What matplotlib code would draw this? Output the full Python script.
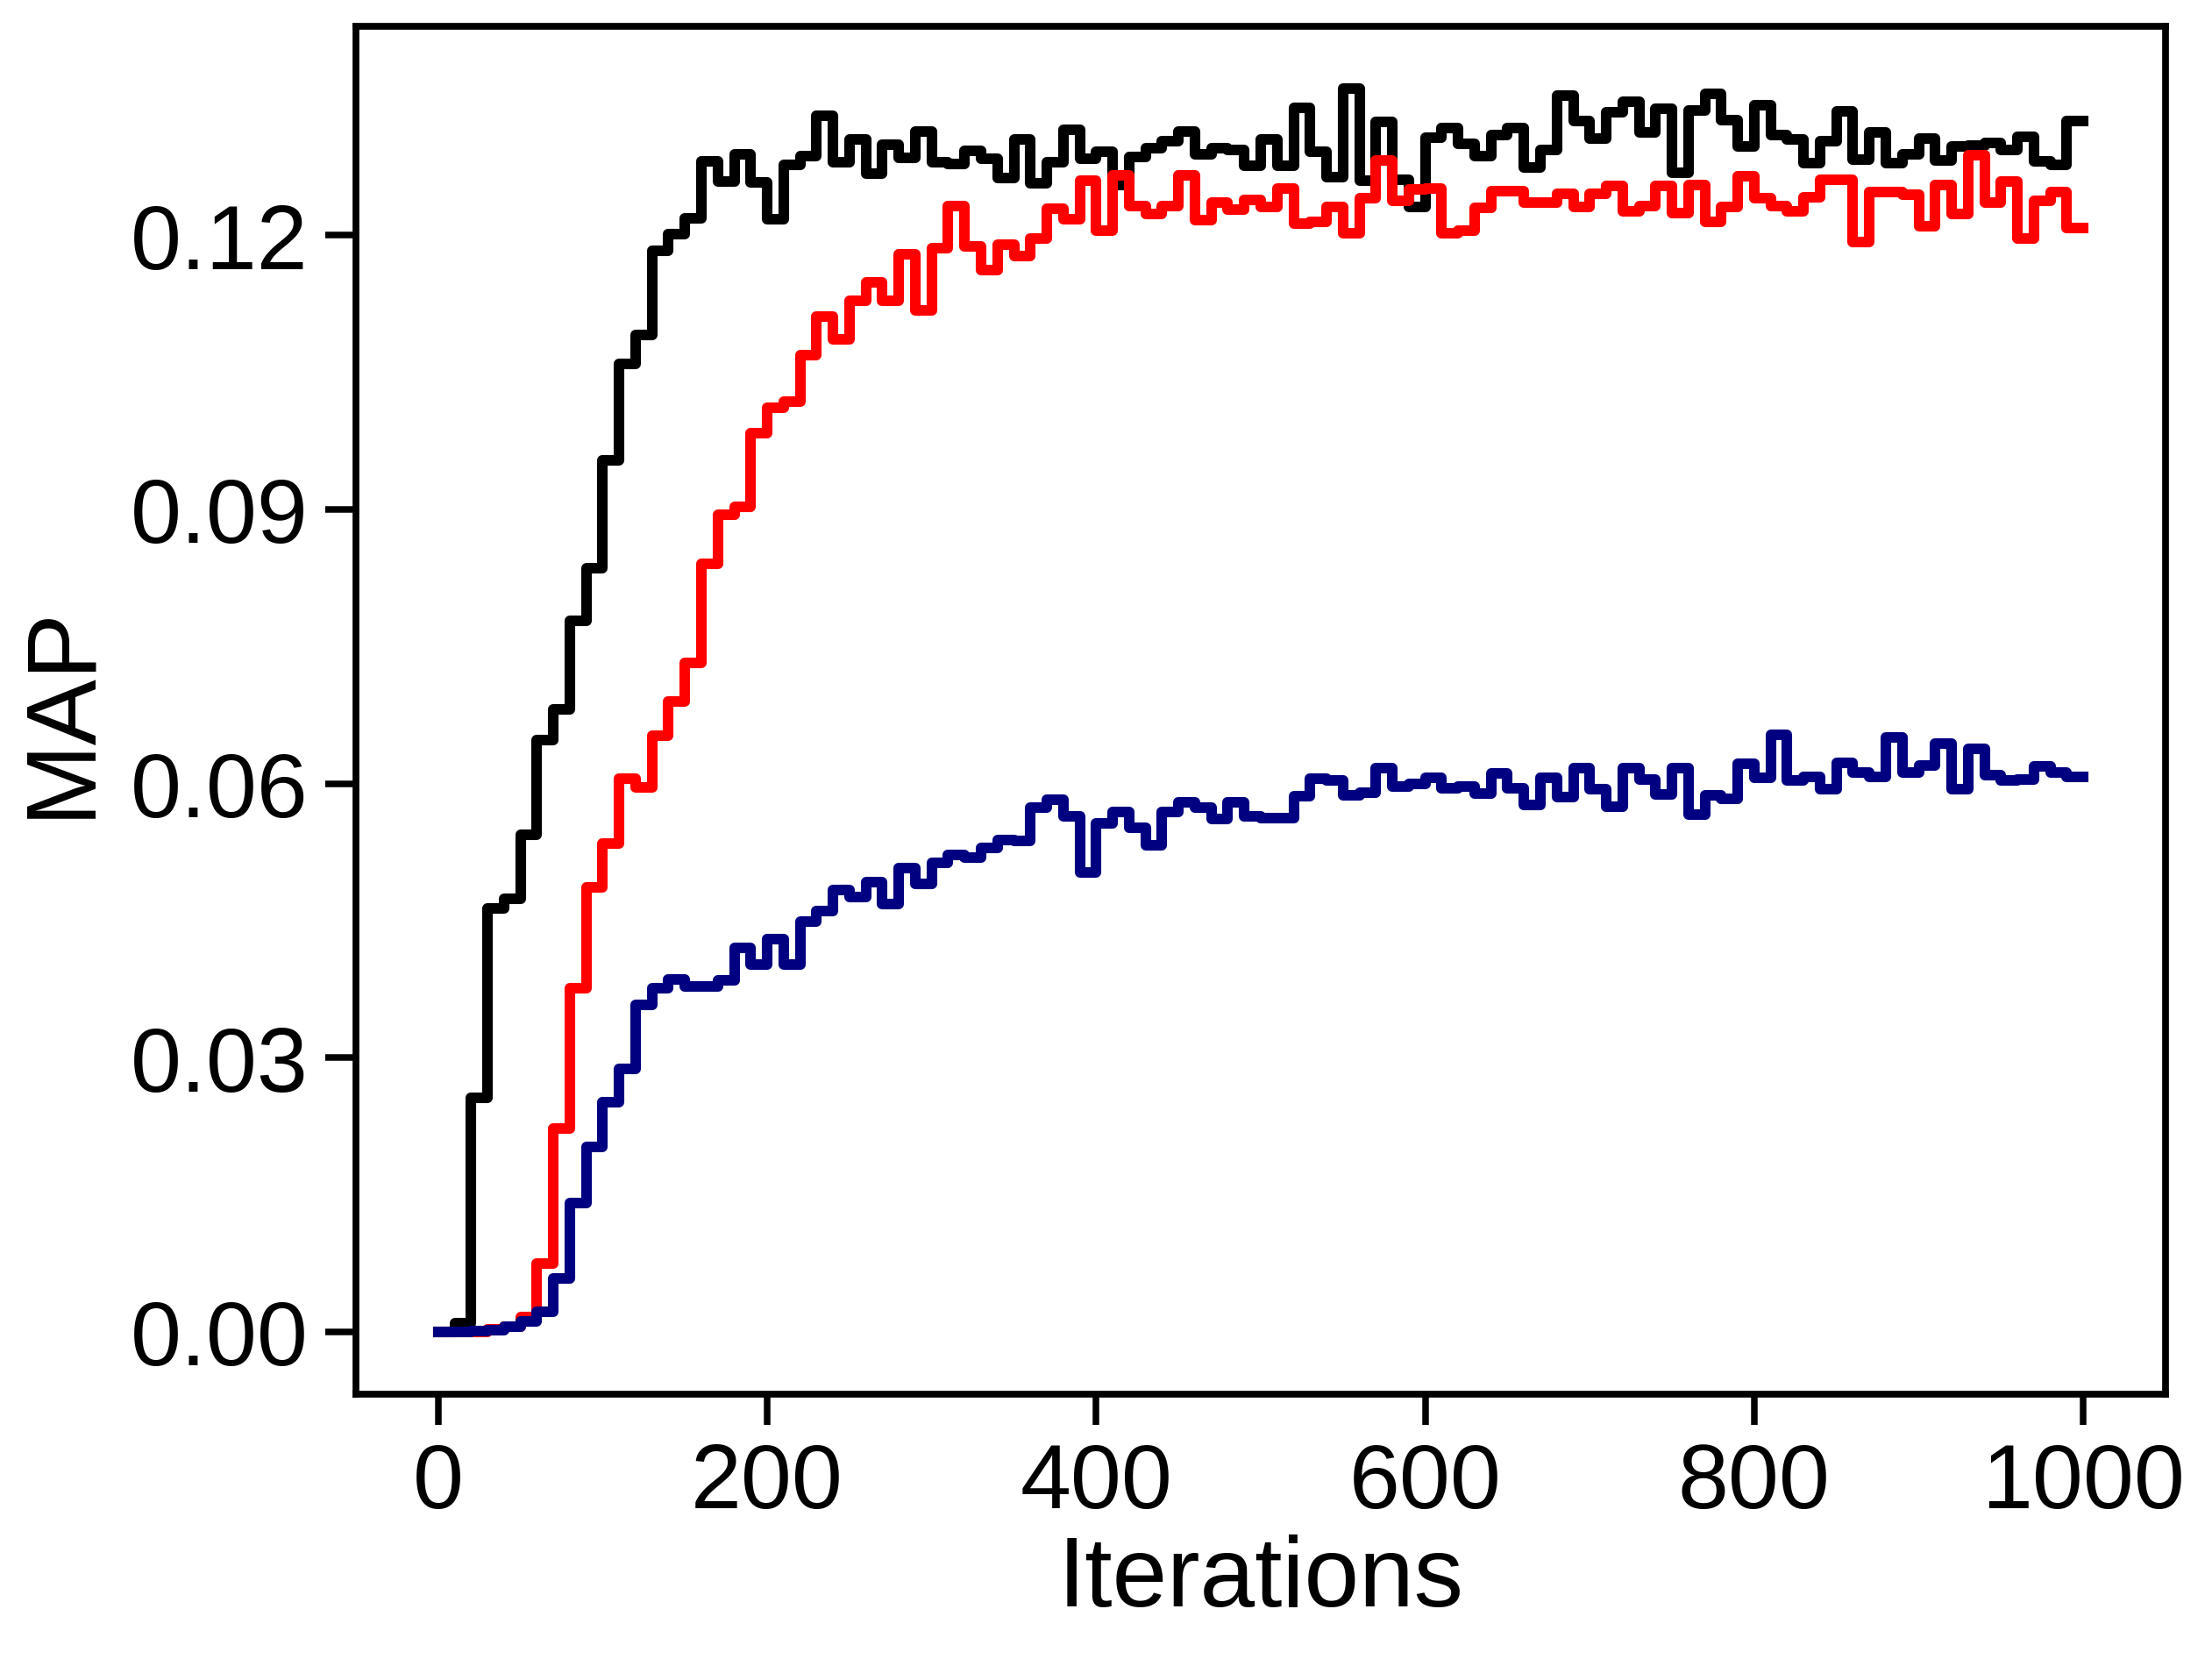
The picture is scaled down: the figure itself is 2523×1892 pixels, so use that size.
import numpy as np
import matplotlib
matplotlib.use("Agg")
import matplotlib.pyplot as plt
from matplotlib.ticker import FormatStrFormatter

# MAP evaluated every 10 iterations
iterations = np.arange(0, 1001, 10)

map_black = [
    0.0000, 0.0009, 0.0256, 0.0463, 0.0474, 0.0544, 0.0648, 0.0681, 0.0778, 0.0836,
    0.0954, 0.1059, 0.1091, 0.1183, 0.1201, 0.1219, 0.1281, 0.1259, 0.1289, 0.1258,
    0.1218, 0.1277, 0.1287, 0.1331, 0.1280, 0.1305, 0.1267, 0.1299, 0.1285, 0.1314,
    0.1280, 0.1278, 0.1292, 0.1284, 0.1263, 0.1305, 0.1257, 0.1280, 0.1315, 0.1284,
    0.1291, 0.1255, 0.1286, 0.1295, 0.1303, 0.1314, 0.1289, 0.1295, 0.1293, 0.1276,
    0.1305, 0.1276, 0.1339, 0.1291, 0.1264, 0.1361, 0.1260, 0.1324, 0.1261, 0.1231,
    0.1307, 0.1317, 0.1300, 0.1287, 0.1310, 0.1317, 0.1274, 0.1293, 0.1353, 0.1325,
    0.1306, 0.1335, 0.1346, 0.1313, 0.1338, 0.1268, 0.1337, 0.1355, 0.1326, 0.1297,
    0.1342, 0.1310, 0.1305, 0.1279, 0.1303, 0.1336, 0.1283, 0.1313, 0.1279, 0.1289,
    0.1306, 0.1282, 0.1297, 0.1298, 0.1301, 0.1293, 0.1308, 0.1281, 0.1277, 0.1325,
    0.1325,
]

map_red = [
    0.0000, 0.0000, 0.0000, 0.0003, 0.0006, 0.0016, 0.0075, 0.0222, 0.0376, 0.0486,
    0.0534, 0.0605, 0.0596, 0.0652, 0.0690, 0.0732, 0.0840, 0.0894, 0.0903, 0.0983,
    0.1011, 0.1018, 0.1069, 0.1111, 0.1086, 0.1128, 0.1148, 0.1128, 0.1179, 0.1118,
    0.1186, 0.1232, 0.1188, 0.1162, 0.1190, 0.1177, 0.1196, 0.1229, 0.1218, 0.1260,
    0.1205, 0.1266, 0.1232, 0.1223, 0.1232, 0.1266, 0.1217, 0.1236, 0.1228, 0.1239,
    0.1231, 0.1251, 0.1213, 0.1215, 0.1231, 0.1202, 0.1241, 0.1282, 0.1238, 0.1250,
    0.1251, 0.1202, 0.1205, 0.1230, 0.1248, 0.1248, 0.1236, 0.1236, 0.1245, 0.1231,
    0.1245, 0.1254, 0.1226, 0.1232, 0.1254, 0.1224, 0.1255, 0.1215, 0.1231, 0.1265,
    0.1241, 0.1232, 0.1226, 0.1242, 0.1261, 0.1261, 0.1193, 0.1247, 0.1247, 0.1244,
    0.1210, 0.1255, 0.1223, 0.1288, 0.1236, 0.1259, 0.1196, 0.1238, 0.1247, 0.1208,
    0.1208,
]

map_blue = [
    0.0000, 0.0000, 0.0001, 0.0002, 0.0006, 0.0011, 0.0022, 0.0058, 0.0141, 0.0202,
    0.0251, 0.0288, 0.0358, 0.0376, 0.0386, 0.0378, 0.0378, 0.0385, 0.0420, 0.0402,
    0.0430, 0.0402, 0.0449, 0.0460, 0.0483, 0.0476, 0.0492, 0.0468, 0.0507, 0.0490,
    0.0513, 0.0522, 0.0519, 0.0530, 0.0538, 0.0537, 0.0574, 0.0582, 0.0564, 0.0503,
    0.0556, 0.0569, 0.0552, 0.0532, 0.0569, 0.0579, 0.0574, 0.0561, 0.0579, 0.0564,
    0.0562, 0.0562, 0.0586, 0.0605, 0.0603, 0.0587, 0.0590, 0.0617, 0.0597, 0.0600,
    0.0606, 0.0595, 0.0597, 0.0589, 0.0611, 0.0595, 0.0577, 0.0606, 0.0585, 0.0617,
    0.0594, 0.0575, 0.0617, 0.0604, 0.0588, 0.0617, 0.0566, 0.0587, 0.0583, 0.0622,
    0.0606, 0.0653, 0.0603, 0.0607, 0.0594, 0.0623, 0.0612, 0.0607, 0.0650, 0.0612,
    0.0620, 0.0644, 0.0594, 0.0638, 0.0609, 0.0603, 0.0604, 0.0619, 0.0612, 0.0607,
    0.0607,
]

xticks = [0, 200, 400, 600, 800, 1000]
yticks = [0.00, 0.03, 0.06, 0.09, 0.12]

plt.rcParams['font.family'] = ['Liberation Sans', 'DejaVu Sans']

fig = plt.figure(figsize=(8.41, 6.31), dpi=300)
ax = fig.add_axes([0.1609, 0.1597, 0.8181, 0.8241])

ax.plot(iterations, map_black, color='black', lw=2.9, drawstyle='steps-post')
ax.plot(iterations, map_red, color='red', lw=2.9, drawstyle='steps-post')
ax.plot(iterations, map_blue, color='navy', lw=2.9, drawstyle='steps-post')

ax.set_xlim(-50, 1050)
ax.set_ylim(-0.0068, 0.1429)
ax.set_xticks(xticks)
ax.set_yticks(yticks)
ax.yaxis.set_major_formatter(FormatStrFormatter('%.2f'))

ax.tick_params(axis='both', labelsize=25, length=8.5, width=1.8, pad=4.5)
for sp in ax.spines.values():
    sp.set_linewidth(1.85)

ax.set_xlabel('Iterations', fontsize=27, labelpad=2)
ax.set_ylabel('MAP', fontsize=27, labelpad=6)

fig.savefig('out.png', dpi=300)
